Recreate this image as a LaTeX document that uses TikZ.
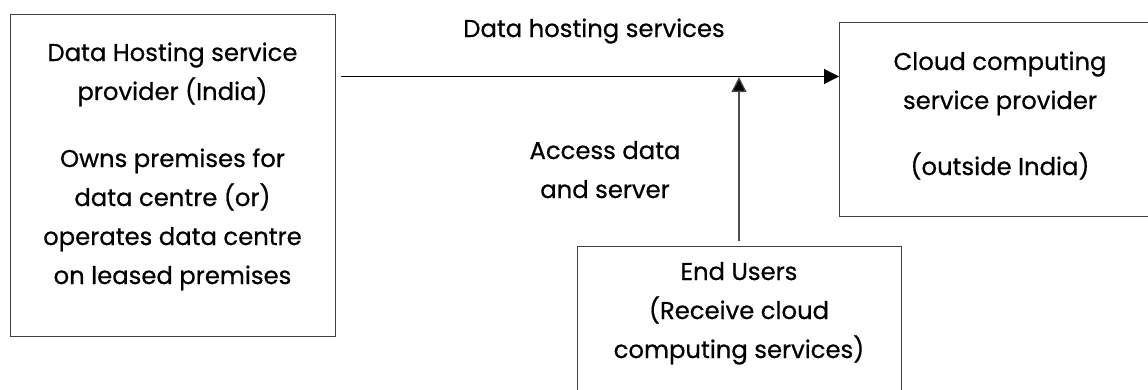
\documentclass[tikz,border=0pt]{standalone}
\usepackage{fontspec}
\setmainfont[FakeBold=0.6]{Poppins}
\usetikzlibrary{arrows.meta}
\tikzset{
  box/.style={draw=black!75, line width=1.3pt, fill=white, inner sep=0pt, anchor=north west},
  txt/.style={align=center, anchor=base, inner sep=0pt, font=\fontsize{24.3}{39}\selectfont},
  flow/.style={line width=1.3pt, -{Triangle[length=15pt,width=15pt]}}
}
\begin{document}
\begin{tikzpicture}[x=1pt,y=-1pt]
\useasboundingbox (0,0) rectangle (1148,389);

% boxes
\node[box, minimum width=325pt, minimum height=322pt] (host) at (10,13.5) {};
\node[box, minimum width=315pt, minimum height=194pt] (cloud) at (839,21.5) {};
\node[box, minimum width=324pt, minimum height=160pt] (users) at (577,246) {};

% texts (anchored at the baseline of their last line)
\node[txt] (hosttxt) at (172.5,284) {Data Hosting service\\provider (India)\\[28pt]Owns premises for\\data centre (or)\\operates data centre\\on leased premises};
\node[txt] (cloudtxt) at (1000,175) {Cloud computing\\service provider\\[27pt](outside India)};
\node[txt] (userstxt) at (739,358) {End Users\\(Receive cloud\\computing services)};
\node[txt] (svc) at (594,37) {Data hosting services};
\node[txt] (acc) at (605,198) {Access data\\and server};

% connectors
\coordinate (hstart) at (341,76.5);
\coordinate (vstart) at (739,241);
\coordinate (vend) at (739,77);
\draw[flow, draw=black] (hstart) -- (hstart -| cloud.west);
\draw[flow, draw=black!70, -{Triangle[length=15pt,width=15pt,fill=black]}] (vstart) -- (vend);
\end{tikzpicture}
\end{document}
